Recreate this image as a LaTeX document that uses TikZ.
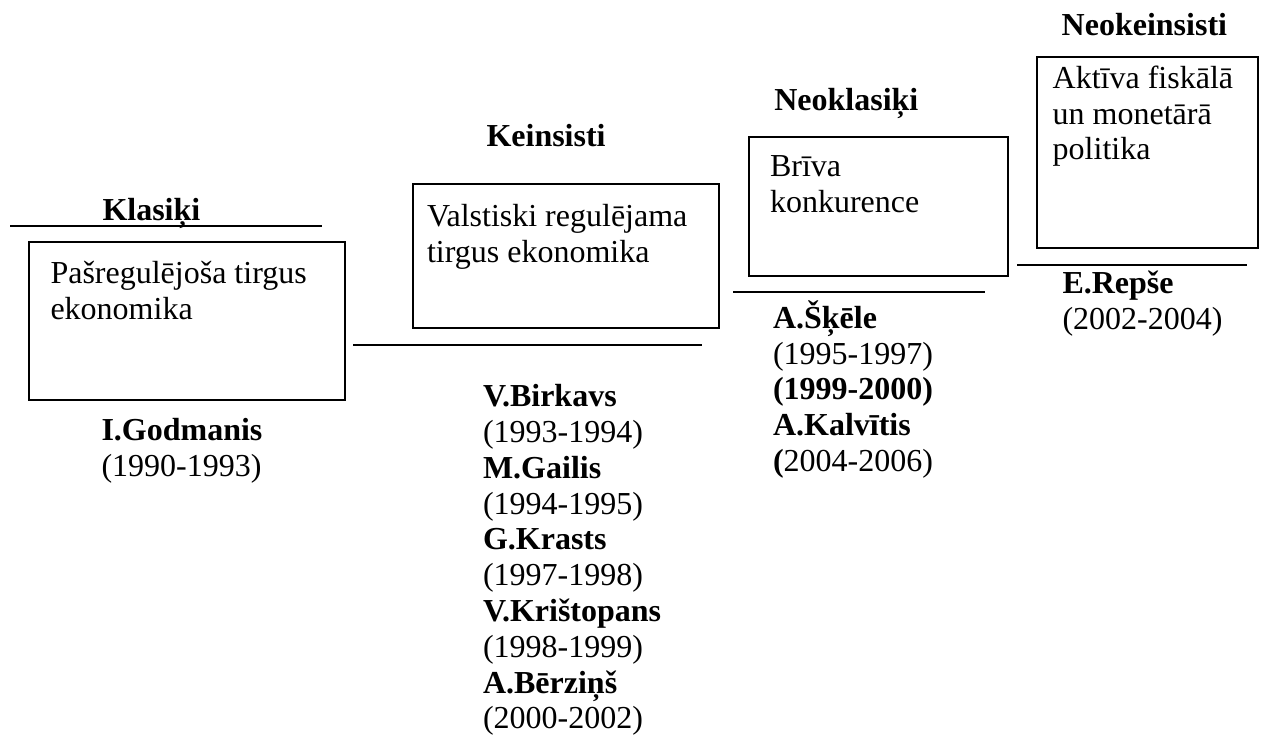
\documentclass[tikz,border=0pt]{standalone}
\usepackage{fontspec}
\setmainfont{Liberation Serif}
% stacked left-aligned lines whose baseline is the first line's
\newcommand\textlines[1]{\begin{tabular}[t]{@{}l@{}}#1\end{tabular}}
\begin{document}
\begin{tikzpicture}[x=1pt,y=-1pt,
  every node/.style={inner sep=0pt, outer sep=0pt},
  txt/.style={anchor=base west, font=\fontsize{32}{35.8}\selectfont},
  head/.style={anchor=base west, font=\fontsize{32}{35.8}\selectfont\bfseries},
  panel/.style={draw, line width=1.5pt},
  rule/.style={line width=1.5pt}]
\useasboundingbox (0,0) rectangle (1261,740);

% school headings
\node[head] (hKlas)  at (102.5,220)  {Klasiķi};
\node[head] (hKein)  at (486.5,146.7) {Keinsisti};
\node[head] (hNeoK)  at (774.3,110)  {Neoklasiķi};
\node[head] (hNeoKe) at (1061.7,35)  {Neokeinsisti};

% rules under / between the steps
\draw[rule] (10,226)   -- (322,226);
\draw[rule] (353,345)  -- (702,345);
\draw[rule] (733,292)  -- (985,292);
\draw[rule] (1017,265) -- (1247,265);

% policy boxes
\node[panel, minimum width=316pt, minimum height=158pt] (b1) at (187,321) {};
\node[panel, minimum width=306pt, minimum height=144pt] (b2) at (566,256) {};
\node[panel, minimum width=259pt, minimum height=139pt] (b3) at (878.5,206.5) {};
\node[panel, minimum width=221pt, minimum height=191pt] (b4) at (1147.5,152.5) {};

% box contents
\node[txt] (t1) at (50.5,283.3) {\textlines{Pašregulējoša tirgus\\ekonomika}};
\node[txt] (t2) at (427,226.7)  {\textlines{Valstiski regulējama\\tirgus ekonomika}};
\node[txt] (t3) at (770,176.7)  {\textlines{Brīva\\konkurence}};
\node[txt] (t4) at (1052.7,88.3) {\textlines{Aktīva fiskālā\\un monetārā\\politika}};

% prime ministers and their terms
\node[txt] (p1) at (101.5,440.7) {\textlines{\textbf{I.Godmanis}\\(1990-1993)}};
\node[txt] (p2) at (483,406.7) {\textlines{\textbf{V.Birkavs}\\(1993-1994)\\\textbf{M.Gailis}\\(1994-1995)\\\textbf{G.Krasts}\\(1997-1998)\\\textbf{V.Krištopans}\\(1998-1999)\\\textbf{A.Bērziņš}\\(2000-2002)}};
\node[txt] (p3) at (773,328.3) {\textlines{\textbf{A.Šķēle}\\(1995-1997)\\\textbf{(1999-2000)}\\\textbf{A.Kalvītis}\\\textbf{(}2004-2006)}};
\node[txt] (p4) at (1062.5,293.3) {\textlines{\textbf{E.Repše}\\(2002-2004)}};
\end{tikzpicture}
\end{document}
